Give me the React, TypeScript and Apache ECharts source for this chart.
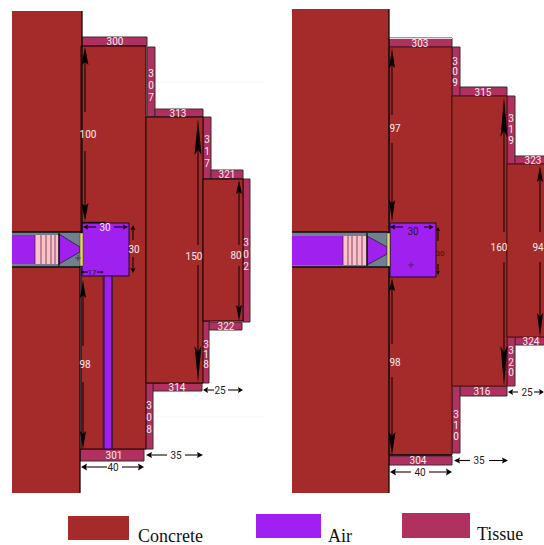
import React, { useEffect, useRef } from "react";
import * as echarts from "echarts";

// Every row is given in the drawing's own scale: [x0, y0, x1, y1]
const concreteWalls = [
  [12, 11, 82, 233], [12, 266, 80, 493],
  [292, 9, 389, 233], [292, 266, 389, 493],
];
const concreteLeft = [
  [81, 46, 146, 449], [146, 117, 203, 383], [203, 179, 243, 321],
];
const concreteRight = [
  [389, 47, 452, 455], [452, 96, 507, 386], [507, 164, 545, 337],
];
const tissueRooms = [
  [82, 37, 147, 46], [147, 47, 155, 117], [155, 109, 203, 117], [203, 117, 211, 179],
  [211, 170, 243, 179], [243, 179, 250, 322], [209, 322, 242, 330], [202, 321, 209, 383],
  [153, 383, 202, 391], [145, 383, 153, 449], [80, 449, 144, 461],
  [389, 38, 452, 47], [452, 47, 460, 96], [460, 87, 507, 96], [507, 96, 515, 164],
  [515, 156, 545, 164], [515, 337, 545, 345], [507, 337, 515, 386], [460, 386, 507, 396],
  [452, 386, 460, 453], [389, 456, 452, 465],
];
const airRooms = [
  [82, 223, 129, 276], [104, 276, 112, 449],
  [390, 223, 436, 277],
];
const ductAir = [[12, 235, 35, 264], [292, 236, 343, 265]];
const ductGrey = [
  [12, 232, 80, 235], [12, 264, 80, 267], [59, 232, 80, 267],
  [292, 232, 387, 236], [292, 265, 387, 267], [367, 232, 387, 267],
];
const pinkFilters = [[35, 235, 59, 264], [343, 236, 367, 265]];
const yellowStrips = [[80, 233, 83, 266], [387, 233, 390, 267]];
const funnels = [
  [59, 234, 80, 247, 80, 252, 59, 264],
  [367, 236, 387, 247, 387, 254, 367, 265],
];
// [x0, y0, x1, y1]
const blackLines = [
  [82, 11, 82, 233], [80, 266, 80, 493], [12, 232, 82, 232], [12, 267, 80, 267],
  [59, 233, 59, 266], [82, 222.5, 105, 222.5],
  [389, 9, 389, 233], [389, 266, 389, 493], [292, 232, 389, 232], [292, 267, 389, 267],
  [367, 233, 367, 266], [389, 455, 452, 455],
];
const thinLines = [
  [35, 235, 35, 264], [41, 235, 41, 264], [46, 235, 46, 264], [51, 235, 51, 264], [55, 235, 55, 264],
  [343, 236, 343, 265], [348, 236, 348, 265], [352, 236, 352, 265], [357, 236, 357, 265], [362, 236, 362, 265],
  [103, 276, 103, 449], [112, 276, 112, 449],
  [411, 262, 411, 268], [408, 265, 414, 265], [78, 255, 78, 261], [75, 258, 81, 258],
];
const paleLines = [[389, 38.5, 452, 38.5]];
const faintLines = [[155, 82, 265, 82], [153, 417, 265, 417]];
// [tail x, tail y, tip x, tip y, head length, head half width]
const arrows = [
  [85, 112, 85, 47, 18, 3.5], [85, 151, 85, 221, 18, 3.5],
  [96, 227, 83, 227, 5, 2.5], [114, 227, 128, 227, 5, 2.5],
  [133, 240, 133, 225, 5, 2.5], [133, 257, 133, 273, 5, 2.5],
  [88, 272, 81, 272, 3, 1.5], [97, 272, 104, 272, 3, 1.5],
  [83, 346, 83, 280, 18, 3], [83, 382, 83, 449, 18, 3],
  [198, 245, 198, 119, 36, 3.5], [198, 265, 198, 382, 36, 3.5],
  [239, 245, 239, 180, 14, 3], [239, 266, 239, 321, 16, 3],
  [214, 390, 203, 390, 5, 3], [228, 390, 243, 390, 5, 3],
  [167, 455, 146, 455, 6, 3], [185, 455, 203, 455, 6, 3],
  [107, 467, 81, 467, 6, 3.5], [122, 467, 144, 467, 6, 3.5],
  [392, 115, 392, 48, 20, 3], [392, 143, 392, 222, 22, 3],
  [403, 227, 390, 227, 5, 2.5], [424, 227, 434, 227, 5, 2.5],
  [438, 241, 438, 227, 4, 2], [438, 264, 438, 275, 4, 2],
  [392, 344, 392, 278, 13, 3], [392, 377, 392, 456, 24, 3.5],
  [504, 232, 504, 97, 40, 3.5], [504, 262, 504, 386, 40, 3.5],
  [540, 232, 540, 166, 16, 3], [540, 262, 540, 337, 24, 3],
  [518, 392, 508, 392, 5, 3], [534, 392, 544, 392, 5, 3],
  [470, 460.5, 454, 460.5, 6, 3], [489, 460.5, 508, 460.5, 6, 3],
  [411, 472, 390, 472, 6, 3.5], [429, 472, 452, 472, 6, 3.5],
];
const whiteLabels = [
  "300", "3", "0", "7", "313", "3", "1", "7", "321", "3", "0", "2", "322", "3", "1", "8", "314", "3", "0", "8", "301",
  "100", "98", "150", "80", "30", "30",
  "303", "3", "0", "9", "315", "3", "1", "9", "323", "324", "3", "2", "0", "316", "3", "1", "0", "304",
  "97", "98", "160", "94",
];
const whiteLabelAt = [
  [115, 41], [151, 73], [151, 85], [151, 97], [178, 113], [207, 139], [207, 151], [207, 163], [227, 174],
  [246, 242], [246, 254], [246, 266], [226, 326], [206, 344], [206, 354], [206, 364], [177, 387],
  [149, 405], [149, 417], [149, 429], [114, 455],
  [88, 134], [85, 364], [194, 256], [236, 255], [105, 227], [134, 249],
  [420, 43], [455, 61], [455, 71], [455, 82], [483, 92], [511, 118], [511, 129], [511, 140], [533, 160],
  [531, 341], [511, 350], [511, 362], [511, 372], [482, 391], [456, 414], [456, 425], [456, 436], [418, 460],
  [395, 128], [395, 362], [499, 247], [538, 247],
];
const darkLabels = ["25", "35", "40", "30", "25", "35", "40"];
const darkLabelAt = [
  [220, 390], [176, 455], [113, 467],
  [413, 231], [527, 392], [479, 460.5], [420, 472],
];
const smallLabels = ["17", "30"];
const smallLabelAt = [[92, 272], [440, 253]];
const legendNames = ["Concrete", "Air", "Tissue"];
const legendNameAt = [[138, 536], [328, 536], [477, 534]];
const legendConcrete = [[68, 516, 129, 540]];
const legendAir = [[256, 514, 321, 538]];
const legendTissue = [[402, 513, 470, 538]];

const CONCRETE = "#a52a2a";
const AIR = "#a020f0";
const TISSUE = "#b03060";
const GREY = "#708090";
const SANS = "Roboto, sans-serif";

function rects(rows: number[][], fill: string, stroke?: string, lineWidth = 1) {
  return {
    type: "custom",
    coordinateSystem: "cartesian2d",
    silent: true,
    clip: false,
    data: rows,
    renderItem: (_: any, api: any) => {
      const a = api.coord([api.value(0), api.value(1)]);
      const b = api.coord([api.value(2), api.value(3)]);
      return {
        type: "rect",
        shape: { x: a[0], y: a[1], width: b[0] - a[0], height: b[1] - a[1] },
        style: { fill, stroke: stroke || undefined, lineWidth: stroke ? lineWidth : 0 },
      };
    },
  };
}

function lines(rows: number[][], stroke: string, lineWidth: number) {
  return {
    type: "custom",
    coordinateSystem: "cartesian2d",
    silent: true,
    clip: false,
    data: rows,
    renderItem: (_: any, api: any) => {
      const a = api.coord([api.value(0), api.value(1)]);
      const b = api.coord([api.value(2), api.value(3)]);
      return {
        type: "line",
        shape: { x1: a[0], y1: a[1], x2: b[0], y2: b[1] },
        style: { stroke, lineWidth, fill: "none" },
      };
    },
  };
}

function polygons(rows: number[][], fill: string) {
  return {
    type: "custom",
    coordinateSystem: "cartesian2d",
    silent: true,
    clip: false,
    data: rows,
    renderItem: (p: any, api: any) => {
      const row = rows[p.dataIndex];
      const points: number[][] = [];
      for (let i = 0; i < row.length; i += 2) points.push(api.coord([row[i], row[i + 1]]));
      return { type: "polygon", shape: { points }, style: { fill, stroke: "#222", lineWidth: 0.8 } };
    },
  };
}

function arrowSeries(rows: number[][]) {
  return {
    type: "custom",
    coordinateSystem: "cartesian2d",
    silent: true,
    clip: false,
    data: rows,
    renderItem: (p: any, api: any) => {
      const [tx, ty, hx, hy, len, half] = rows[p.dataIndex];
      const d = Math.hypot(hx - tx, hy - ty) || 1;
      const ux = (hx - tx) / d;
      const uy = (hy - ty) / d;
      const tail = api.coord([tx, ty]);
      const tip = api.coord([hx, hy]);
      const b1 = api.coord([hx - ux * len - uy * half, hy - uy * len + ux * half]);
      const b2 = api.coord([hx - ux * len + uy * half, hy - uy * len - ux * half]);
      const notch = api.coord([hx - ux * len * 0.85, hy - uy * len * 0.85]);
      return {
        type: "group",
        children: [
          { type: "line", shape: { x1: tail[0], y1: tail[1], x2: notch[0], y2: notch[1] }, style: { stroke: "#160404", lineWidth: 1.1 } },
          { type: "polygon", shape: { points: [tip, b1, notch, b2] }, style: { fill: "#0a0202" } },
        ],
      };
    },
  };
}

function labels(names: string[], at: number[][], fill: string, font: string, fontSize: number, align: string) {
  return {
    type: "custom",
    coordinateSystem: "cartesian2d",
    silent: true,
    clip: false,
    data: at,
    renderItem: (p: any, api: any) => {
      const c = api.coord([api.value(0), api.value(1)]);
      return {
        type: "text",
        x: c[0],
        y: c[1],
        style: { text: names[p.dataIndex], fill, fontFamily: font, fontSize, align, verticalAlign: "middle" },
      };
    },
  };
}

export default function App() {
  const ref = useRef<HTMLDivElement>(null);
  useEffect(() => {
    const chart = echarts.init(ref.current as HTMLDivElement, undefined, { renderer: "svg" });
    chart.setOption({
      animation: false,
      backgroundColor: "#ffffff",
      grid: { left: 0, right: 0, top: 0, bottom: 0 },
      xAxis: { type: "value", min: 0, max: 544, show: false },
      yAxis: { type: "value", min: 0, max: 545, inverse: true, show: false },
      series: [
        lines(faintLines, "#f5f5f5", 1),
        rects(tissueRooms, TISSUE, "#3a2a30", 1),
        lines(paleLines, "#e6dade", 1),
        rects(concreteWalls, CONCRETE),
        rects(concreteLeft, CONCRETE, "#120404", 1),
        rects(concreteRight, CONCRETE, "#4a1010", 1),
        rects(airRooms, AIR, "#1a0a20", 1),
        rects(ductAir, AIR),
        rects(ductGrey, GREY),
        rects(pinkFilters, "#ffc0cb"),
        polygons(funnels, AIR),
        rects(yellowStrips, "#e8d860", "#333", 0.5),
        lines(blackLines, "#0c0c0c", 1.3),
        lines(thinLines, "#3a2028", 0.7),
        arrowSeries(arrows),
        labels(whiteLabels, whiteLabelAt, "#f6ecec", SANS, 10, "center"),
        labels(darkLabels, darkLabelAt, "#2a1a1a", SANS, 10, "center"),
        labels(smallLabels, smallLabelAt, "#2a1a1a", SANS, 8, "center"),
        rects(legendConcrete, CONCRETE),
        rects(legendAir, AIR),
        rects(legendTissue, TISSUE),
        labels(legendNames, legendNameAt, "#111111", "'Liberation Serif', serif", 18, "left"),
      ],
    });
    return () => chart.dispose();
  }, []);
  return <div ref={ref} style={{ position: "fixed", left: 0, top: 0, width: 544, height: 545 }} />;
}
